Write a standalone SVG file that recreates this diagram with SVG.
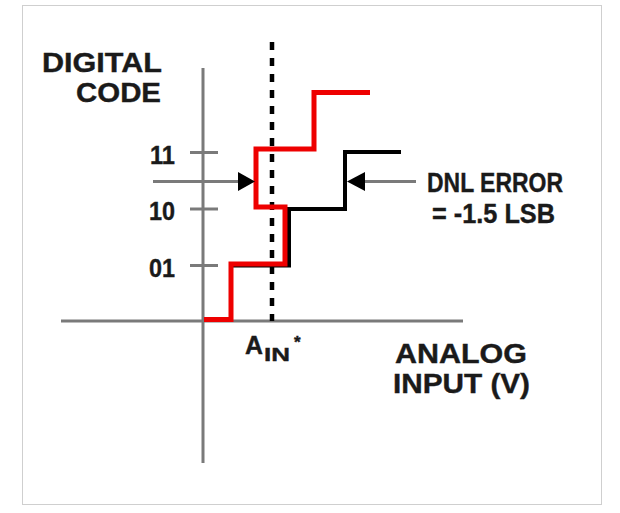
<svg xmlns="http://www.w3.org/2000/svg" width="620" height="513" viewBox="0 0 620 513">
<style>
.t{font-family:"Liberation Sans",Arial,sans-serif;font-weight:bold;fill:#1a1a1a;stroke:#1a1a1a;stroke-width:0.4}
.ax{stroke:#7a7a7a;stroke-width:3;fill:none}
</style>
<rect x="0" y="0" width="620" height="513" fill="#fff"/>
<rect x="22.5" y="5.5" width="579" height="499" fill="#fff" stroke="#cfcfcf" stroke-width="1"/>
<g id="axes">
<line class="ax" x1="203" y1="68" x2="203" y2="463"/>
<line class="ax" x1="61" y1="321" x2="463" y2="321"/>
<line class="ax" x1="190" y1="152.5" x2="218" y2="152.5"/>
<line class="ax" x1="190" y1="209" x2="218" y2="209"/>
<line class="ax" x1="190" y1="265.5" x2="218" y2="265.5"/>
</g>
<g id="labels">
<text class="t" x="42" y="72" font-size="28" textLength="120" lengthAdjust="spacingAndGlyphs">DIGITAL</text>
<text class="t" x="76" y="102" font-size="28" textLength="85" lengthAdjust="spacingAndGlyphs">CODE</text>
<text class="t" x="150" y="164" font-size="26" textLength="25" lengthAdjust="spacingAndGlyphs">11</text>
<text class="t" x="149" y="220" font-size="26" textLength="26" lengthAdjust="spacingAndGlyphs">10</text>
<text class="t" x="149" y="276.5" font-size="26" textLength="26" lengthAdjust="spacingAndGlyphs">01</text>
<text class="t" x="245" y="354" font-size="25" textLength="18" lengthAdjust="spacingAndGlyphs">A</text>
<text class="t" x="264" y="361" font-size="19" textLength="26" lengthAdjust="spacingAndGlyphs">IN</text>
<text class="t" x="294" y="348" font-size="17">*</text>
<text class="t" x="395" y="363" font-size="27.5" textLength="132" lengthAdjust="spacingAndGlyphs">ANALOG</text>
<text class="t" x="393" y="393" font-size="27.5" textLength="137" lengthAdjust="spacingAndGlyphs">INPUT (V)</text>
<text class="t" x="427" y="192" font-size="27" textLength="136" lengthAdjust="spacingAndGlyphs">DNL ERROR</text>
<text class="t" x="432" y="222.5" font-size="27" textLength="123" lengthAdjust="spacingAndGlyphs">= -1.5 LSB</text>
</g>
<g id="connectors">
<line x1="272" y1="42" x2="272" y2="321" stroke="#000" stroke-width="4.5" stroke-dasharray="8 8"/>
<path d="M232,265.5 H289 V209 H345 V152 H401" fill="none" stroke="#000" stroke-width="4"/>
<path d="M204,319.5 H231 V264 H285 V207 H256 V149 H314 V92.5 H370" fill="none" stroke="#ee0000" stroke-width="5"/>
<line class="ax" x1="153" y1="181.5" x2="240" y2="181.5"/>
<polygon points="255,181.5 238,172 238,191" fill="#000"/>
<line class="ax" x1="362" y1="181.5" x2="416" y2="181.5"/>
<polygon points="347,181.5 365,172 365,191" fill="#000"/>
</g>
</svg>
